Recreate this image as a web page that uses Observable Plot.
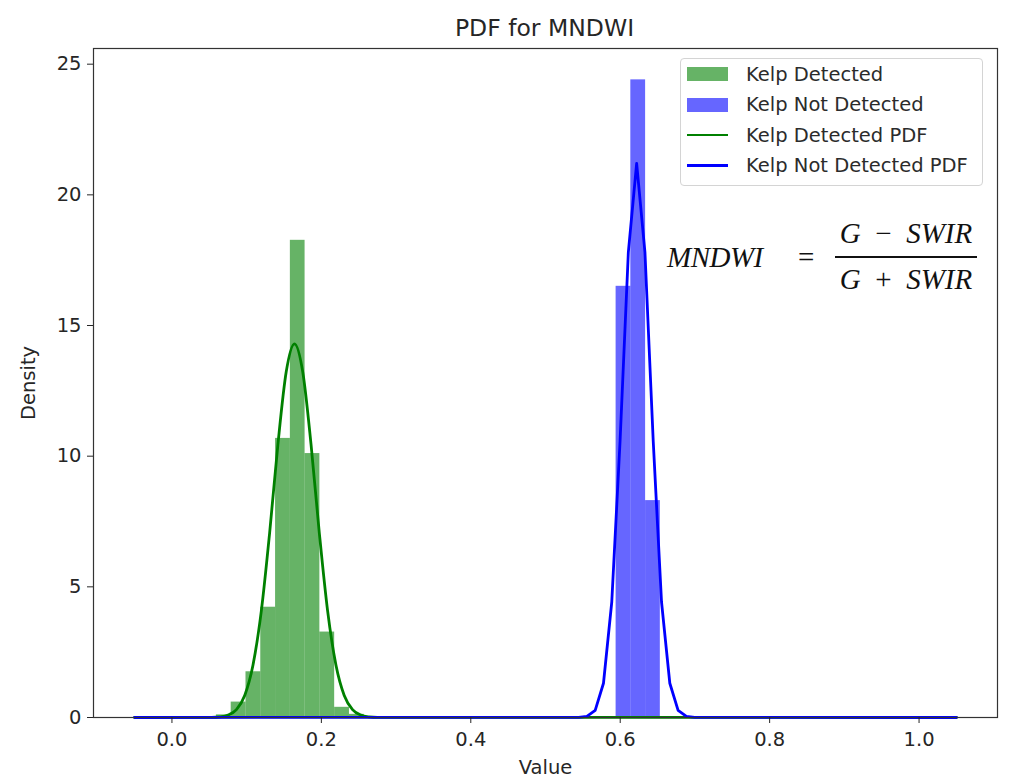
<!DOCTYPE html>
<html>
<head>
<meta charset="utf-8">
<script src="https://cdn.jsdelivr.net/npm/d3@7"></script>
<script src="https://cdn.jsdelivr.net/npm/@observablehq/plot@0.6"></script>
<style>
  body { margin: 0; background: #fff; font-family: "DejaVu Sans", sans-serif; color: #262626; }
  #wrap { position: relative; width: 1025px; height: 780px; overflow: hidden; }
  #title { box-sizing: border-box; height: 40px; padding-top: 17px; padding-left: 93px; width: 996px;
           text-align: center; font-size: 23.5px; line-height: 1; }
  #legend { position: absolute; left: 680px; top: 58px; width: 303px; height: 128px; box-sizing: border-box;
            border: 1px solid #d4d4d4; border-radius: 4px; background: rgba(255,255,255,0.85); }
  .row { position: absolute; left: 0; height: 30px; display: flex; align-items: center; font-size: 19.5px; white-space: nowrap; color: #2b2b2b; }
  .sw { width: 41px; margin-left: 6px; margin-right: 18px; }
  #formula { position: absolute; left: 0; top: 0; font-family: "Liberation Serif", serif; font-style: italic; font-size: 29px; color: #111; }
  #formula div { position: absolute; line-height: 28px; white-space: nowrap; }
  .op { font-style: normal; margin: 0 0.5em; }
</style>
</head>
<body>
<div id="wrap">
  <div id="title">PDF for MNDWI</div>
  <div id="chart"></div>
  <div id="legend"></div>
  <div id="formula">
    <div style="left:667px; top:243px; letter-spacing:-0.5px;">MNDWI</div>
    <div style="left:798px; top:243px; font-style:normal;">=</div>
    <div style="left:834px; top:219px; width:144px; text-align:center;">G<span class="op">−</span>SWIR</div>
    <div style="left:835px; top:256px; width:142px; height:1.6px; background:#111;"></div>
    <div style="left:834px; top:265px; width:144px; text-align:center;">G<span class="op">+</span>SWIR</div>
  </div>
</div>
<script>
// ---- data ----
const seriesNames = ["Kelp Detected", "Kelp Not Detected"];
const seriesColors = ["green", "blue"];

// histogram (density) – Kelp Detected
const greenBinEdges = [0.0595, 0.0793, 0.0991, 0.1189, 0.1387, 0.1585, 0.1782, 0.1980, 0.2178, 0.2376, 0.2574];
const greenDensity  = [0.10, 0.59, 1.75, 4.22, 10.68, 18.26, 10.10, 3.27, 0.39, 0.12];

// histogram (density) – Kelp Not Detected
const blueBinEdges = [0.5945, 0.6142, 0.6340, 0.6537];
const blueDensity  = [16.5, 24.4, 8.3];

// PDF curve – Kelp Detected
const greenPdfX = [-0.05, 0.053, 0.0641, 0.0752, 0.0863, 0.0974, 0.1085, 0.1196, 0.1307, 0.1418, 0.1529, 0.164,
                   0.1751, 0.1862, 0.1973, 0.2084, 0.2195, 0.2306, 0.2417, 0.2528, 0.2639, 0.275, 1.05];
const greenPdfY = [0, 0.0055, 0.025, 0.094, 0.304, 0.845, 2.01, 4.07, 7.05, 10.44, 13.22, 14.3,
                   13.22, 10.44, 7.05, 4.07, 2.01, 0.845, 0.304, 0.094, 0.025, 0.0055, 0];

// PDF curve – Kelp Not Detected
const bluePdfX = [-0.05, 0.5443, 0.5554, 0.5665, 0.5776, 0.5887, 0.5998, 0.6109, 0.622,
                  0.6331, 0.6442, 0.6553, 0.6664, 0.6775, 0.6886, 0.6997, 1.05];
const bluePdfY = [0, 0.004, 0.04, 0.27, 1.31, 4.42, 10.57, 17.81, 21.2,
                  17.81, 10.57, 4.42, 1.31, 0.27, 0.04, 0.004, 0];

const xTicks = [0.0, 0.2, 0.4, 0.6, 0.8, 1.0];
const yTicks = [0, 5, 10, 15, 20, 25];

// ---- tables ----
const bars = (edges, dens) => dens.map((d, i) => ({x1: edges[i], x2: edges[i + 1], y: d}));
const greenBars = bars(greenBinEdges, greenDensity);
const blueBars = bars(blueBinEdges, blueDensity);
const greenPdf = greenPdfX.map((x, i) => ({x, y: greenPdfY[i]}));
const bluePdf = bluePdfX.map((x, i) => ({x, y: bluePdfY[i]}));

const chart = Plot.plot({
  width: 1025,
  height: 740,
  marginLeft: 93,
  marginRight: 28,
  marginTop: 8,
  marginBottom: 63,
  style: {fontFamily: "DejaVu Sans", fontSize: "19.5px", color: "#262626", background: "white", overflow: "visible"},
  x: {domain: [-0.105, 1.105]},
  y: {domain: [0, 25.6]},
  marks: [
    Plot.rectY(greenBars, {x1: "x1", x2: "x2", y: "y", fill: seriesColors[0], fillOpacity: 0.6}),
    Plot.rectY(blueBars, {x1: "x1", x2: "x2", y: "y", fill: seriesColors[1], fillOpacity: 0.6}),
    Plot.line(greenPdf, {x: "x", y: "y", stroke: seriesColors[0], strokeWidth: 2.8, curve: "monotone-x"}),
    Plot.line(bluePdf, {x: "x", y: "y", stroke: seriesColors[1], strokeWidth: 2.8}),
    Plot.frame({stroke: "#333", strokeWidth: 1.2}),
    Plot.axisX({ticks: xTicks, tickFormat: d3.format(".1f"), tickSize: 6, tickPadding: 9,
                label: "Value", labelAnchor: "center", labelArrow: "none", labelOffset: 56}),
    Plot.axisY({ticks: yTicks, tickSize: 6, tickPadding: 6,
                label: "Density", labelAnchor: "center", labelArrow: "none", labelOffset: 72})
  ]
});
document.getElementById("chart").appendChild(chart);

// ---- legend ----
const legend = document.getElementById("legend");
const items = [
  {label: seriesNames[0], color: seriesColors[0], kind: "patch"},
  {label: seriesNames[1], color: seriesColors[1], kind: "patch"},
  {label: seriesNames[0] + " PDF", color: seriesColors[0], kind: "line"},
  {label: seriesNames[1] + " PDF", color: seriesColors[1], kind: "line"}
];
items.forEach((it, i) => {
  const row = document.createElement("div");
  row.className = "row";
  row.style.top = (0 + i * 30.5) + "px";
  const sw = document.createElement("div");
  sw.className = "sw";
  sw.style.background = it.color;
  if (it.kind === "patch") { sw.style.height = "14px"; sw.style.opacity = 0.6; }
  else { sw.style.height = "2.8px"; }
  row.appendChild(sw);
  const t = document.createElement("span");
  t.textContent = it.label;
  row.appendChild(t);
  legend.appendChild(row);
});
</script>
</body>
</html>
